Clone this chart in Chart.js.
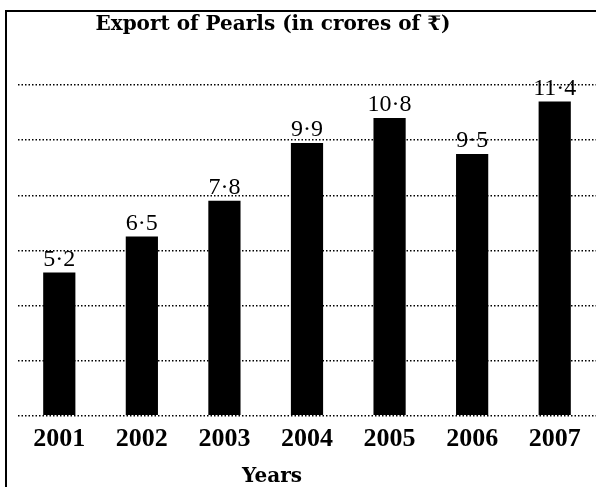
<!DOCTYPE html>
<html>
<head>
<meta charset="utf-8">
<script src="https://cdn.jsdelivr.net/npm/chart.js@4/dist/chart.umd.min.js"></script>
<style>
  body { margin: 0; background: #fff; }
  #wrap { width: 596px; height: 487px; }
</style>
</head>
<body>
<div id="wrap"><canvas id="exportChart" width="596" height="487"></canvas></div>
<script>
// data
const years = ['2001', '2002', '2003', '2004', '2005', '2006', '2007'];
const exportValues = [5.2, 6.5, 7.8, 9.9, 10.8, 9.5, 11.4];
const titleText = 'Export of Pearls (in crores of \u20B9)';
const xTitleText = 'Years';

// frame, titles and value labels on top of the bars
const decorations = {
  id: 'decorations',
  beforeDraw(chart) {
    const c = chart.ctx;
    c.save();
    c.fillStyle = '#fff';
    c.fillRect(0, 0, chart.width, chart.height);
    c.strokeStyle = '#000';
    c.lineWidth = 2;
    c.beginPath();
    c.moveTo(6, chart.height);
    c.lineTo(6, 11);
    c.lineTo(chart.width, 11);
    c.stroke();
    c.restore();
  },
  afterDatasetsDraw(chart) {
    const c = chart.ctx;
    c.save();
    c.fillStyle = '#000';
    c.textAlign = 'center';

    c.font = 'bold 20px "DejaVu Serif"';
    c.textBaseline = 'middle';
    c.fillText(titleText, 273, 25);

    c.font = 'bold 20px "DejaVu Serif"';
    c.fillText(xTitleText, 272, 477);

    c.font = '24px "Liberation Serif"';
    c.textBaseline = 'bottom';
    const meta = chart.getDatasetMeta(0);
    meta.data.forEach((bar, i) => {
      const label = String(exportValues[i]).replace('.', '\u00B7');
      c.fillText(label, bar.x, bar.y - 1);
    });
    c.restore();
  }
};

const ctx = document.getElementById('exportChart').getContext('2d');
const chart = new Chart(ctx, {
  type: 'bar',
  data: {
    labels: years,
    datasets: [{
      data: exportValues,
      backgroundColor: '#000',
      borderWidth: 0,
      categoryPercentage: 1,
      barPercentage: 0.39
    }]
  },
  options: {
    responsive: false,
    animation: false,
    layout: { padding: { top: 85, left: 18, right: 0, bottom: 32 } },
    plugins: {
      legend: { display: false },
      title: { display: false },
      tooltip: { enabled: false }
    },
    scales: {
      x: {
        grid: { display: false },
        border: { display: false },
        ticks: {
          color: '#000',
          padding: 0,
          font: { family: 'Liberation Serif', size: 26, weight: 'bold' }
        }
      },
      y: {
        min: 0,
        max: 12,
        ticks: { display: false, stepSize: 2 },
        border: { display: false },
        grid: {
          color: '#000',
          lineWidth: 1.5,
          drawTicks: false
        }
      }
    }
  },
  plugins: [decorations]
});
// dotted grid lines
chart.options.scales.y.border.dash = [1.5, 2];
chart.options.scales.y.grid.borderDash = [1.5, 2];
chart.options.scales.y.border.dashOffset = 0;
chart.update();
</script>
</body>
</html>
